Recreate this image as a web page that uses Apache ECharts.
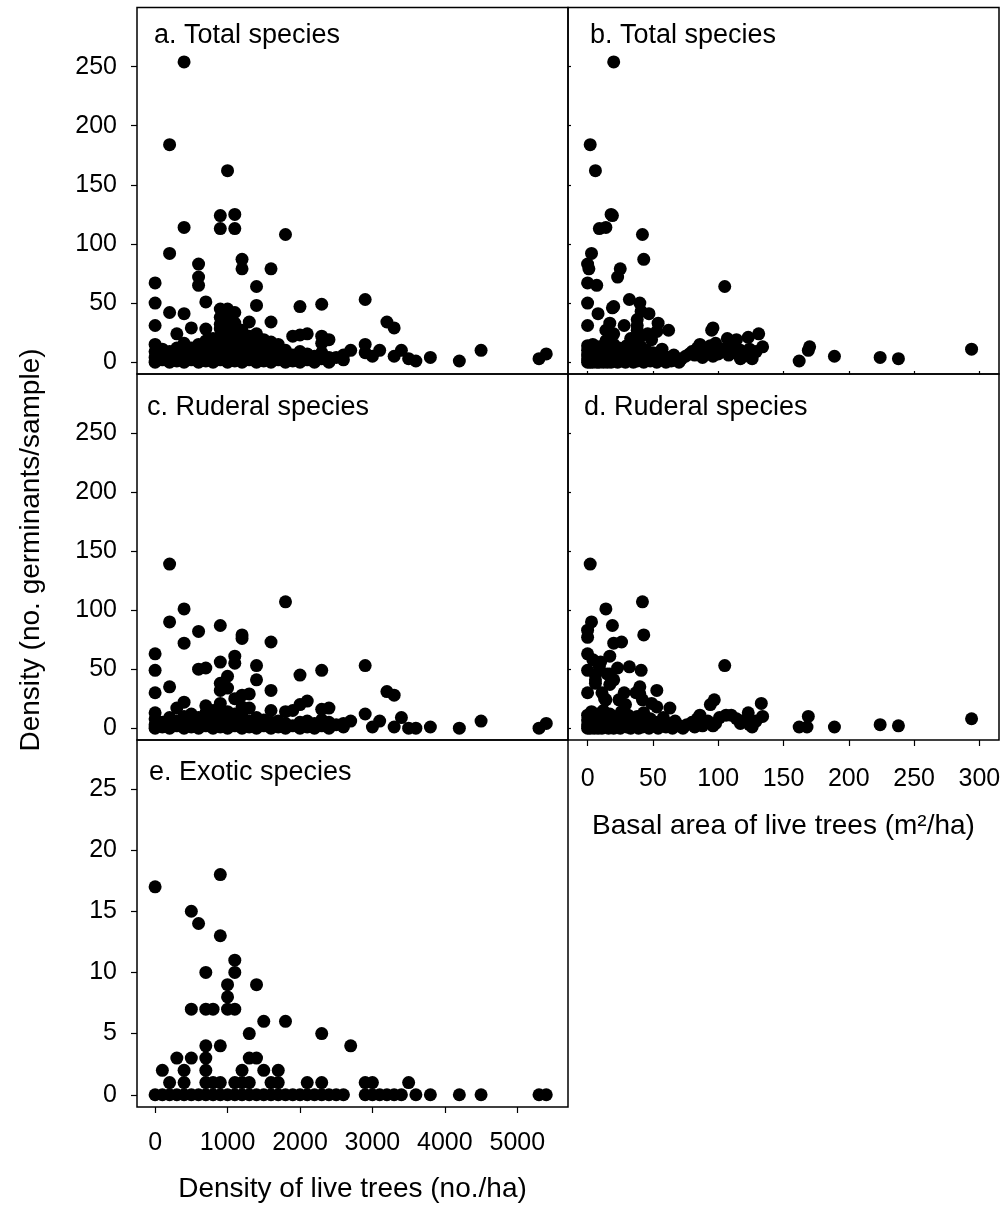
<!DOCTYPE html>
<html><head><meta charset="utf-8">
<script src="https://cdn.jsdelivr.net/npm/echarts@6/dist/echarts.min.js"></script>
<style>html,body{margin:0;padding:0;background:#fff}#c{width:1008px;height:1209px}</style>
</head><body><div id="c"></div>
<script>
// ---- text ----
const panelLabels = ['a. Total species', 'b. Total species', 'c. Ruderal species', 'd. Ruderal species', 'e. Exotic species'];
const xTitleDensity = 'Density of live trees (no./ha)';
const xTitleBasal = 'Basal area of live trees (m\u00B2/ha)';
const yTitle = 'Density (no. germinants/sample)';

// ---- tick values ----
const densityTicks = [0, 1000, 2000, 3000, 4000, 5000];
const basalTicks = [0, 50, 100, 150, 200, 250, 300];
const germinantTicks = [0, 50, 100, 150, 200, 250];
const exoticTicks = [0, 5, 10, 15, 20, 25];

// ---- data: [x, y] ----
// a. total species vs density of live trees
const totalVsDensity = [
  [400,254],[200,184],[1000,162],[900,124],[1100,125],[900,113],[1100,113],[400,114],[1800,108],[200,92],
  [600,83],[1200,87],[1200,79],[1600,79],[600,72],[600,65],[0,67],[1400,64],[0,50],[700,51],[2300,49],
  [2900,53],[2000,47],[1400,48],[200,42],[400,41],[900,45],[1000,45],[1100,42],[900,38],[1000,37],
  [1300,34],[1600,34],[3200,34],[3300,29],[0,31],[500,29],[300,24],[700,28],[900,32],[900,28],[1000,30],
  [1100,33],[1100,24],[1200,27],[1300,22],[1400,24],[1500,19],[1900,22],[2000,23],[2100,24],[2300,22],
  [2400,19],[2300,16],[1600,17],[1700,15],[2700,10],[2900,15],[2900,8],[3000,5],[3100,10],[3300,5],
  [3400,10],[3500,3],[3600,1],[3800,4],[4200,1],[4500,10],[5300,3],[5400,7],[2500,4],
  [0,0],[0,4],[0,9],[0,15],[100,2],[100,6],[100,11],[200,0],[200,5],[200,9],[300,1],[300,6],[300,12],
  [400,0],[400,4],[400,9],[400,16],[500,2],[500,7],[500,12],[600,0],[600,5],[600,10],[600,15],[700,1],
  [700,6],[700,13],[700,18],[800,0],[800,4],[800,9],[800,14],[800,20],[900,2],[900,7],[900,12],[900,17],
  [900,22],[1000,0],[1000,5],[1000,10],[1000,16],[1000,21],[1100,1],[1100,6],[1100,12],[1100,18],
  [1200,0],[1200,4],[1200,9],[1200,14],[1200,19],[1300,2],[1300,7],[1300,12],[1400,0],[1400,5],
  [1400,11],[1400,16],[1500,1],[1500,6],[1500,11],[1600,0],[1600,4],[1600,9],[1700,2],[1700,7],
  [1800,0],[1800,5],[1800,10],[1900,1],[1900,6],[2000,0],[2000,4],[2000,9],[2100,2],[2100,7],
  [2200,0],[2200,5],[2300,3],[2300,8],[2400,0],[2400,4],[2600,2],[2600,6]
];
// b. total species vs basal area
const totalVsBasal = [
  [20,254],[2,184],[6,162],[18,125],[19,124],[9,113],[14,114],[42,108],[3,92],[43,87],[0,83],[1,79],
  [25,79],[23,72],[0,67],[7,65],[105,64],[0,50],[32,53],[19,46],[20,47],[40,50],[41,43],[47,41],[8,41],
  [0,31],[54,33],[62,27],[96,29],[95,27],[38,31],[28,31],[20,24],[38,36],[17,33],[14,27],[38,27],
  [41,22],[46,24],[53,26],[49,19],[131,24],[123,21],[107,20],[114,19],[98,16],[86,15],[134,13],
  [129,9],[126,3],[117,10],[117,3],[108,6],[96,5],[82,6],[170,13],[169,10],[162,1],[189,5],[224,4],
  [238,3],[294,11],
  [0,0],[0,3],[0,6],[0,10],[0,14],[1,1],[1,8],[2,0],[2,4],[2,12],[3,2],[3,6],[4,0],[4,9],[4,15],[5,3],
  [5,7],[6,1],[6,11],[7,0],[7,5],[8,2],[8,8],[9,0],[9,13],[10,4],[10,10],[11,1],[12,6],[12,0],[13,3],
  [14,9],[14,18],[15,0],[15,5],[16,2],[17,12],[18,0],[18,7],[19,3],[20,1],[20,15],[21,9],[22,5],[23,0],
  [24,3],[24,12],[25,7],[26,1],[27,10],[28,4],[29,0],[30,14],[31,6],[32,2],[33,20],[34,9],[35,0],
  [36,4],[37,17],[38,1],[40,7],[41,13],[42,3],[43,0],[45,10],[46,5],[48,1],[50,8],[51,3],[53,0],
  [55,5],[57,11],[58,2],[60,0],[62,4],[64,1],[66,6],[68,2],[70,0],[72,3],[75,5],[78,7],[80,9],[84,12],
  [88,4],[90,10],[94,14],[100,7],[103,11],[110,14],[113,8],[120,5],[124,11]
];
// c. ruderal species vs density of live trees
const ruderalVsDensity = [
  [200,139],[1800,107],[400,101],[200,90],[900,87],[600,82],[1200,79],[1200,76],[1600,73],[400,72],
  [0,63],[1100,61],[1100,55],[900,56],[1400,53],[2900,53],[600,50],[700,51],[0,49],[2300,49],[2000,45],
  [1400,41],[1000,44],[900,38],[1000,34],[200,35],[900,32],[1600,32],[0,30],[3200,31],[3300,28],
  [1300,29],[1200,28],[1100,25],[400,22],[700,19],[900,21],[2100,23],[2000,20],[300,17],[2300,16],
  [2400,17],[1300,17],[1600,15],[1800,14],[1900,15],[2900,12],[3400,9],[2700,6],[3100,6],[4500,6],
  [3300,1],[3500,0],[3600,0],[3800,1],[4200,0],[5300,0],[5400,4],[3000,1],[2500,3],
  [0,0],[0,3],[0,8],[0,13],[100,1],[100,5],[200,0],[200,4],[200,9],[300,2],[300,6],[400,0],[400,4],
  [400,10],[500,1],[500,6],[500,12],[600,0],[600,4],[600,9],[700,2],[700,7],[700,13],[800,0],[800,5],
  [800,10],[800,15],[900,1],[900,6],[900,11],[900,16],[1000,0],[1000,4],[1000,9],[1000,14],[1100,2],
  [1100,7],[1100,12],[1200,0],[1200,5],[1200,10],[1200,18],[1300,1],[1300,6],[1400,0],[1400,4],
  [1400,9],[1500,2],[1500,7],[1600,0],[1600,5],[1700,1],[1700,6],[1800,0],[1800,4],[1900,2],[2000,0],
  [2000,5],[2100,1],[2100,6],[2200,0],[2200,4],[2300,2],[2300,7],[2400,0],[2400,5],[2600,1],[2600,4]
];
// d. ruderal species vs basal area
const ruderalVsBasal = [
  [2,139],[42,107],[14,101],[3,90],[19,87],[0,83],[0,77],[43,79],[20,72],[26,73],[0,63],[17,61],
  [10,56],[4,58],[9,52],[105,53],[0,49],[32,52],[41,49],[23,51],[17,46],[15,46],[6,45],[20,41],[6,41],
  [17,37],[40,35],[53,32],[0,30],[6,38],[28,30],[11,30],[37,30],[40,29],[13,25],[14,24],[24,24],
  [42,24],[29,20],[49,21],[53,18],[63,17],[97,24],[94,20],[133,21],[123,13],[134,10],[86,11],[106,11],
  [114,8],[129,6],[126,1],[117,4],[96,2],[82,1],[169,10],[168,1],[162,1],[189,1],[224,3],[238,2],[294,8],
  [0,0],[0,3],[0,7],[0,11],[1,1],[1,5],[2,0],[2,9],[3,3],[3,14],[4,1],[4,6],[5,0],[5,10],[6,3],[7,1],
  [7,7],[8,0],[8,12],[9,4],[10,2],[10,8],[11,0],[12,5],[12,15],[13,1],[14,9],[15,3],[16,0],[16,6],
  [17,12],[18,2],[19,8],[20,0],[21,4],[22,10],[23,1],[24,6],[25,0],[26,14],[27,3],[28,8],[30,1],
  [31,11],[32,4],[33,0],[35,7],[36,2],[38,10],[39,0],[40,5],[42,1],[43,13],[45,3],[47,0],[48,8],
  [50,2],[52,5],[54,0],[56,3],[58,9],[60,1],[62,4],[65,0],[67,6],[70,2],[73,0],[76,3],[80,5],[84,8],
  [88,2],[92,6],[98,4],[101,9],[110,11],[119,6],[124,3]
];
// e. exotic species vs density of live trees
const exoticVsDensity = [
  [0,17],[900,18],[500,15],[600,14],[900,13],[1100,11],[700,10],[1100,10],[1000,9],[1400,9],[1000,8],
  [500,7],[700,7],[800,7],[1000,7],[1100,7],[1500,6],[1800,6],[1300,5],[2300,5],[700,4],[900,4],[2700,4],
  [300,3],[500,3],[700,3],[1300,3],[1400,3],[100,2],[400,2],[700,2],[1200,2],[1500,2],[1700,2],
  [200,1],[400,1],[700,1],[800,1],[900,1],[1100,1],[1200,1],[1300,1],[1600,1],[1700,1],[2100,1],
  [2300,1],[2900,1],[3000,1],[3500,1],
  [0,0],[100,0],[200,0],[300,0],[400,0],[500,0],[600,0],[700,0],[800,0],[900,0],[1000,0],[1100,0],
  [1200,0],[1300,0],[1400,0],[1500,0],[1600,0],[1700,0],[1800,0],[1900,0],[2000,0],[2100,0],[2200,0],
  [2300,0],[2400,0],[2500,0],[2600,0],[2900,0],[3000,0],[3100,0],[3200,0],[3300,0],[3400,0],[3600,0],
  [3800,0],[4200,0],[4500,0],[5300,0],[5400,0]
];

// ---- rendering ----
const FONT = "'Liberation Sans', Arial, Helvetica, sans-serif";
const chart = echarts.init(document.getElementById('c'), null, {renderer: 'canvas'});

const grids = [
  {left: 137, top: 7.5, width: 431, height: 366.5},
  {left: 568, top: 7.5, width: 431, height: 366.5},
  {left: 137, top: 374, width: 431, height: 366},
  {left: 568, top: 374, width: 431, height: 366},
  {left: 137, top: 740, width: 431, height: 367}
].map(g => Object.assign({show: true, borderColor: '#000', borderWidth: 1.5, backgroundColor: 'transparent', containLabel: false}, g));

function tick(values, show, inside, len) {
  return {show: show, inside: inside, length: len, customValues: values, lineStyle: {color: '#000', width: 1.2}};
}
function label(values, show, margin) {
  return {show: show, customValues: values, color: '#000', fontSize: 25, fontFamily: FONT,
          margin: margin, formatter: v => String(v)};
}
function makeAxis(i, min, max, ticks, tickShow, inside, labelShow, labelMargin, name, nameGap) {
  const ax = {
    type: 'value', gridIndex: i, min: min, max: max,
    axisLine: {show: false, onZero: false},
    splitLine: {show: false},
    axisTick: tick(ticks, tickShow, inside, inside ? 3 : 6),
    axisLabel: label(ticks, labelShow, labelMargin)
  };
  if (name) {
    ax.name = name; ax.nameLocation = 'middle'; ax.nameGap = nameGap;
    ax.nameTextStyle = {color: '#000', fontSize: 28, fontFamily: FONT};
  }
  return ax;
}

const xAxes = [
  makeAxis(0, -250, 5700, densityTicks, false, false, false, 24),
  makeAxis(1, -15, 315, basalTicks, true, true, false, 24),
  makeAxis(2, -250, 5700, densityTicks, false, false, false, 24),
  makeAxis(3, -15, 315, basalTicks, true, false, true, 27, xTitleBasal, 72),
  makeAxis(4, -250, 5700, densityTicks, true, false, true, 24, xTitleDensity, 68)
];
const yAxes = [
  makeAxis(0, -10, 300, germinantTicks, true, false, true, 20),
  makeAxis(1, -10, 300, germinantTicks, true, true, false, 20),
  makeAxis(2, -10, 300, germinantTicks, true, false, true, 20),
  makeAxis(3, -10, 300, germinantTicks, true, true, false, 20),
  makeAxis(4, -1, 29, exoticTicks, true, false, true, 20)
];

const panelData = [totalVsDensity, totalVsBasal, ruderalVsDensity, ruderalVsBasal, exoticVsDensity];
const series = panelData.map((d, i) => ({
  type: 'scatter', xAxisIndex: i, yAxisIndex: i, data: d,
  symbol: 'circle', symbolSize: 13, itemStyle: {color: '#000', opacity: 1},
  emphasis: {disabled: true}, clip: false
}));

const titlePos = [
  {left: 154, top: 22}, {left: 590, top: 22},
  {left: 147, top: 394}, {left: 584, top: 394},
  {left: 149, top: 759}
];
const titles = panelLabels.map((t, i) => ({
  text: t, left: titlePos[i].left, top: titlePos[i].top, padding: 0,
  textStyle: {color: '#000', fontSize: 27, fontWeight: 'normal', fontFamily: FONT}
}));

chart.setOption({
  animation: false,
  backgroundColor: '#fff',
  title: titles,
  grid: grids,
  xAxis: xAxes,
  yAxis: yAxes,
  series: series,
  graphic: [{
    type: 'text', x: 31, y: 550, rotation: Math.PI / 2, silent: true,
    style: {text: yTitle, fill: '#000', fontSize: 28, fontFamily: FONT, align: 'center', verticalAlign: 'middle'}
  }]
});
</script>
</body></html>
